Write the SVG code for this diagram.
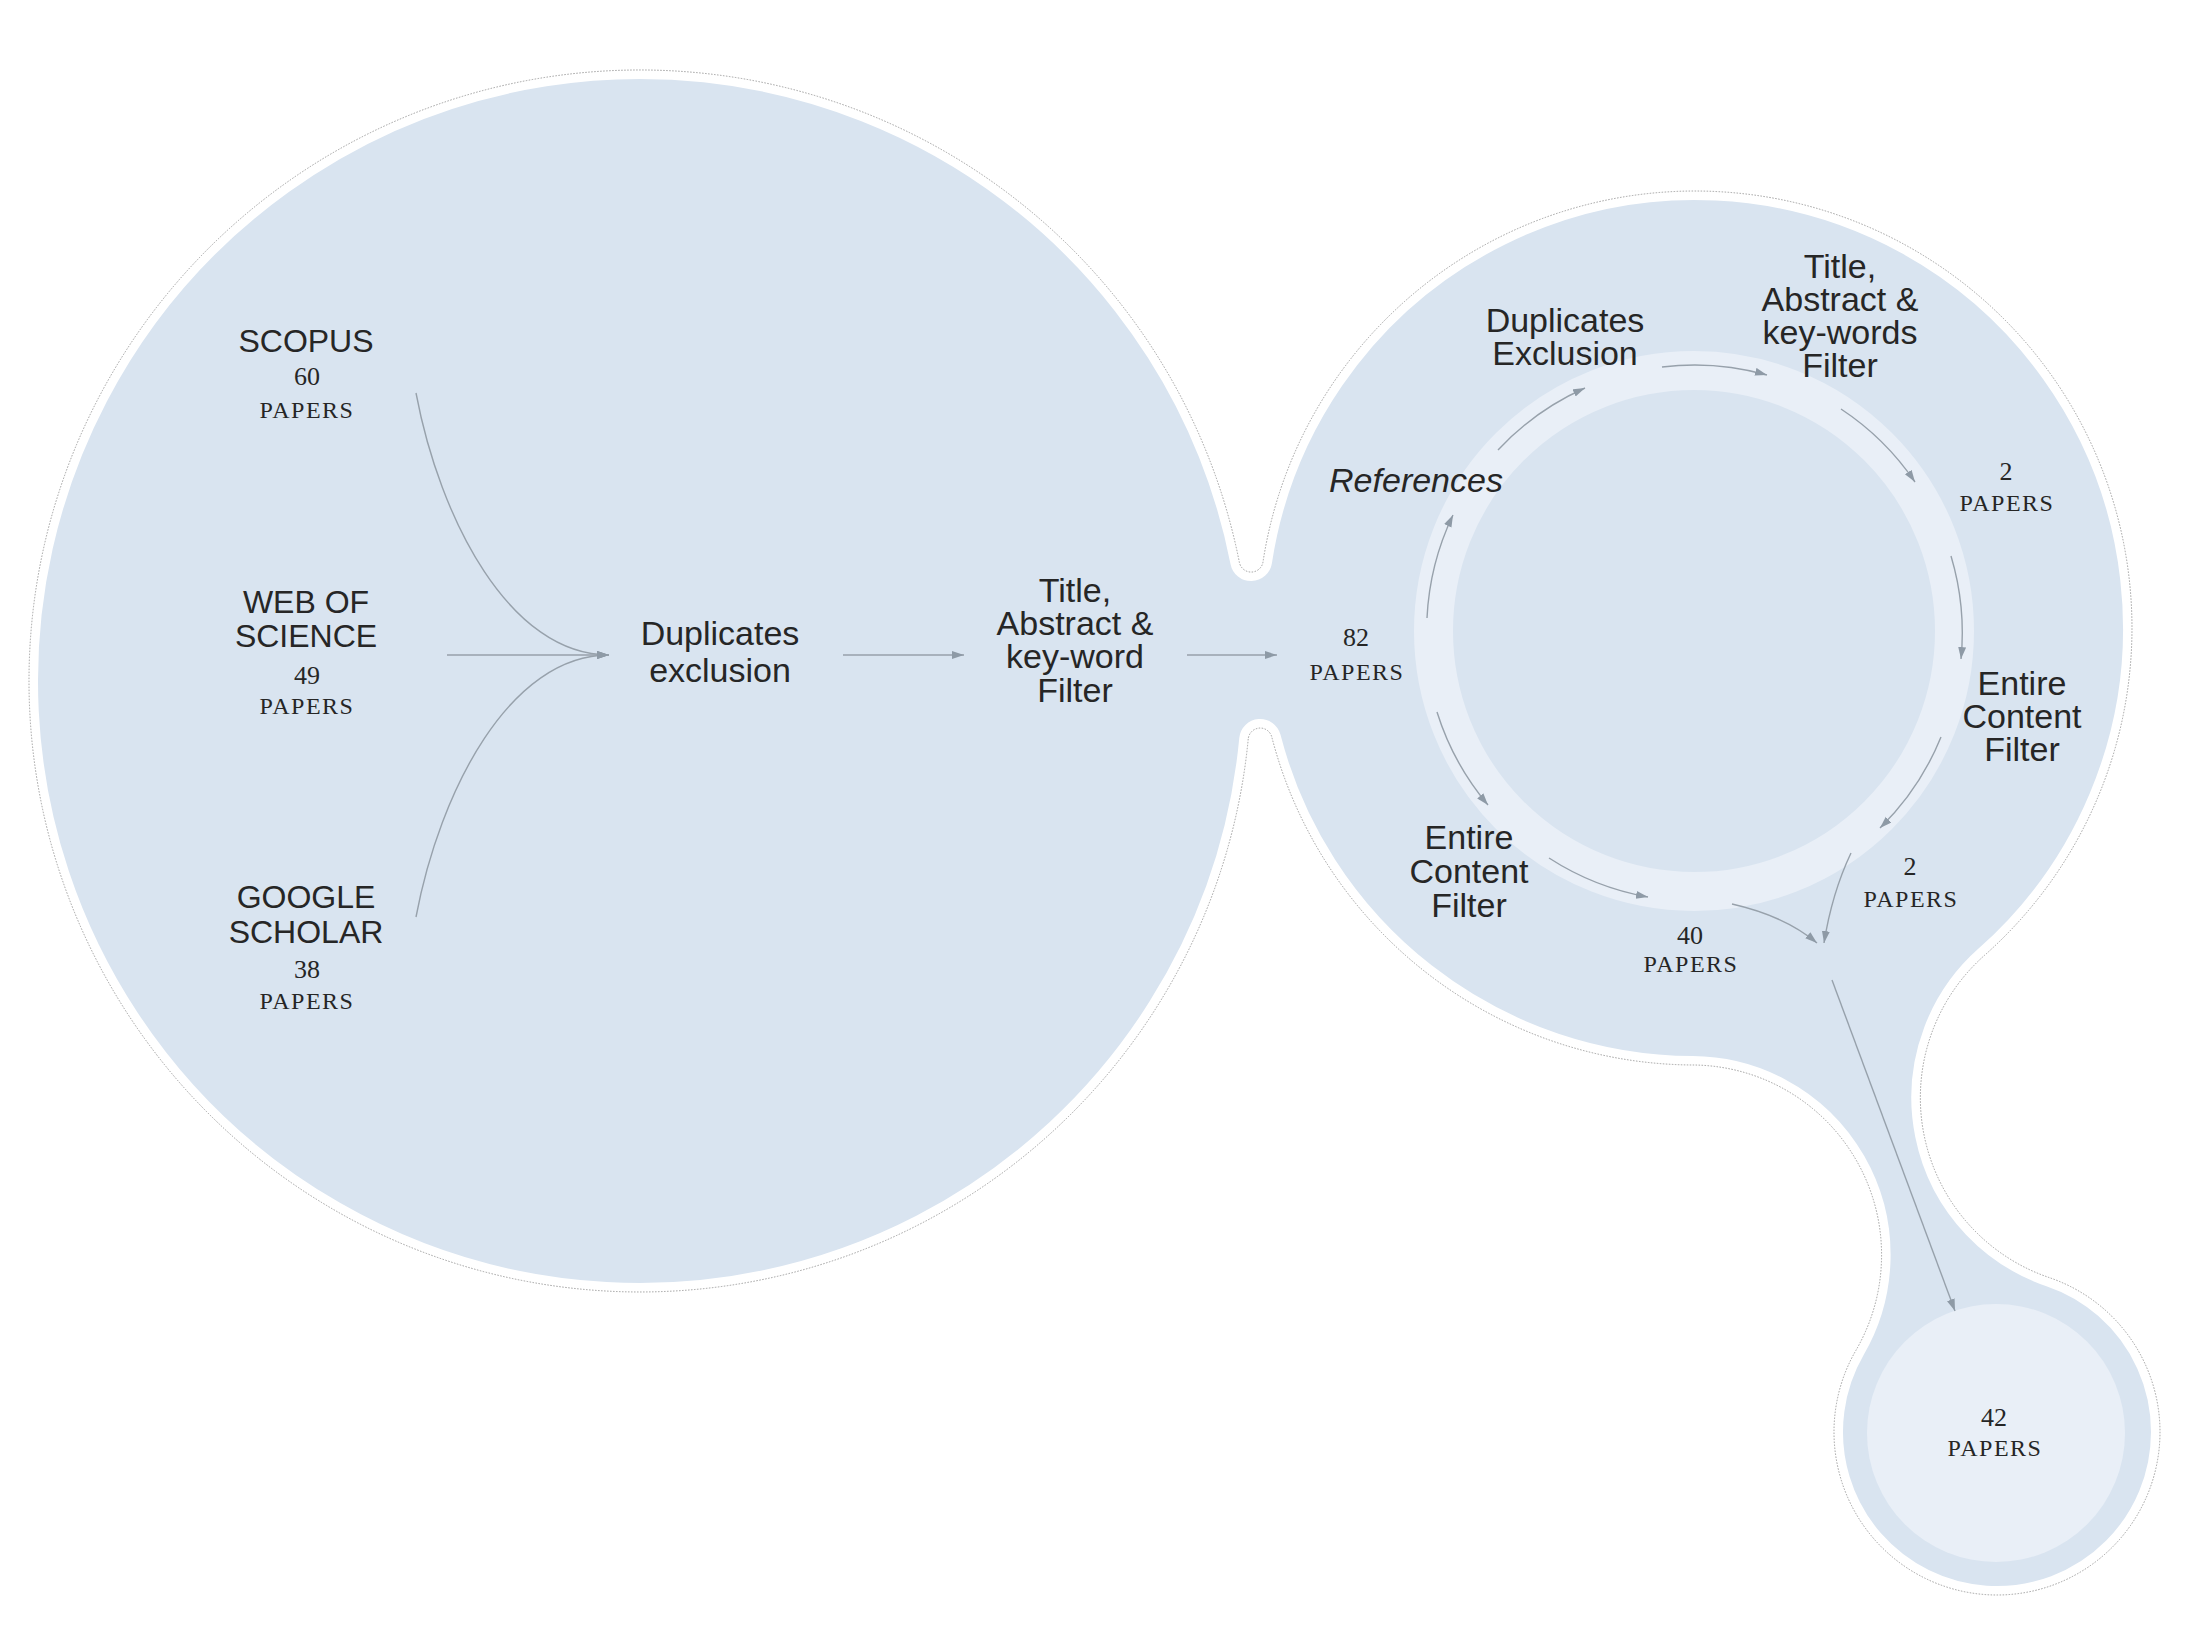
<svg xmlns="http://www.w3.org/2000/svg" width="2190" height="1642" viewBox="0 0 2190 1642">
<defs>
<style>
.sans{font-family:"Liberation Sans",Arial,sans-serif;font-size:34px;fill:#262626;text-anchor:middle}
.db{font-size:32px}
.it{font-style:italic}
.num{font-family:"Liberation Serif","Times New Roman",serif;font-size:26px;fill:#262626;text-anchor:middle}
.pap{font-family:"Liberation Serif","Times New Roman",serif;font-size:24px;letter-spacing:1.5px;fill:#262626;text-anchor:middle}
.conn{fill:none;stroke:#97a1ab;stroke-width:1.4;marker-end:url(#ah)}
</style>
<marker id="ah" markerUnits="userSpaceOnUse" markerWidth="14" markerHeight="10" refX="12" refY="4" orient="auto"><path d="M0,0 L12,4 L0,8 Z" fill="#8e9aa6"/></marker>
<path id="blobpath" d="M1248.24,738.92 A611,611 0 1 1 1239.38,562.41 A12,12 0 0 0 1263.01,561.90 A437,437 0 1 1 1984.49,955.36 A190,190 0 0 0 2049.34,1277.63 A163,163 0 1 1 1855.97,1350.26 A190,190 0 0 0 1692.62,1064.99 A437,437 0 0 1 1271.81,737.07 A12,12 0 0 0 1248.24,738.92 Z"/>
</defs>
<rect width="2190" height="1642" fill="#ffffff"/>
<g id="background">
<use href="#blobpath" fill="#d9e4f0" stroke="#ffffff" stroke-width="18"/>
<use href="#blobpath" fill="none" stroke="#a0a0a0" stroke-width="1" stroke-dasharray="1.5 1.5"/>
<circle cx="1694" cy="631" r="260.5" fill="none" stroke="#e9eff7" stroke-width="39"/>
<circle cx="1996" cy="1433" r="129" fill="#e9eff7"/>
</g>
<g id="connectors">
<path class="conn" d="M416,393 C440,520 510,655 609,655"/>
<path class="conn" d="M447,655 L609,655"/>
<path class="conn" d="M416,917 C440,790 510,655 609,655"/>
<path class="conn" d="M843,655 L964,655"/>
<path class="conn" d="M1187,655 L1277,655"/>
<path class="conn" d="M1427,618 A268,268 0 0 1 1453,515"/>
<path class="conn" d="M1498,450 A268,268 0 0 1 1585,388"/>
<path class="conn" d="M1662,367 A268,268 0 0 1 1767,375"/>
<path class="conn" d="M1841,409 A268,268 0 0 1 1915,482"/>
<path class="conn" d="M1951,556 A268,268 0 0 1 1961,659"/>
<path class="conn" d="M1941,737 A269,269 0 0 1 1880,828"/>
<path class="conn" d="M1437,712 A269,269 0 0 0 1488,805"/>
<path class="conn" d="M1549,858 A269,269 0 0 0 1648,897"/>
<path class="conn" d="M1732,904 Q1785,916 1817,943"/>
<path class="conn" d="M1851,853 Q1832,893 1824,943"/>
<path class="conn" d="M1832,980 L1955,1311"/>
</g>
<g id="scopus"><text class="sans db" x="306" y="352">SCOPUS</text><text class="num" x="307" y="385">60</text><text class="pap" x="307" y="418">PAPERS</text></g>
<g id="wos"><text class="sans db" x="306" y="613">WEB OF</text><text class="sans db" x="306" y="647">SCIENCE</text><text class="num" x="307" y="684">49</text><text class="pap" x="307" y="714">PAPERS</text></g>
<g id="gscholar"><text class="sans db" x="306" y="908">GOOGLE</text><text class="sans db" x="306" y="943">SCHOLAR</text><text class="num" x="307" y="978">38</text><text class="pap" x="307" y="1009">PAPERS</text></g>
<g id="dup1"><text class="sans" x="720" y="645">Duplicates</text><text class="sans" x="720" y="682">exclusion</text></g>
<g id="filter1"><text class="sans" x="1075" y="602">Title,</text><text class="sans" x="1075" y="635">Abstract &amp;</text><text class="sans" x="1075" y="668">key-word</text><text class="sans" x="1075" y="702">Filter</text></g>
<g id="p82"><text class="num" x="1356" y="646">82</text><text class="pap" x="1357" y="680">PAPERS</text></g>
<g id="references"><text class="sans it" x="1416" y="492">References</text></g>
<g id="dup2"><text class="sans" x="1565" y="332">Duplicates</text><text class="sans" x="1565" y="365">Exclusion</text></g>
<g id="filter2"><text class="sans" x="1840" y="278">Title,</text><text class="sans" x="1840" y="311">Abstract &amp;</text><text class="sans" x="1840" y="344">key-words</text><text class="sans" x="1840" y="377">Filter</text></g>
<g id="p2a"><text class="num" x="2006" y="480">2</text><text class="pap" x="2007" y="511">PAPERS</text></g>
<g id="ecf1"><text class="sans" x="2022" y="695">Entire</text><text class="sans" x="2022" y="728">Content</text><text class="sans" x="2022" y="761">Filter</text></g>
<g id="p2b"><text class="num" x="1910" y="875">2</text><text class="pap" x="1911" y="907">PAPERS</text></g>
<g id="ecf2"><text class="sans" x="1469" y="849">Entire</text><text class="sans" x="1469" y="883">Content</text><text class="sans" x="1469" y="917">Filter</text></g>
<g id="p40"><text class="num" x="1690" y="944">40</text><text class="pap" x="1691" y="972">PAPERS</text></g>
<g id="p42"><text class="num" x="1994" y="1426">42</text><text class="pap" x="1995" y="1456">PAPERS</text></g>
</svg>
